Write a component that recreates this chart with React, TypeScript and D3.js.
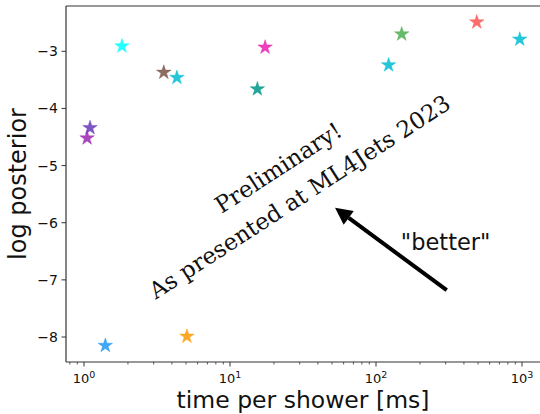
import React from "react";
import * as d3 from "d3";

const times = [1.82, 17.4, 150, 490, 965, 122, 3.52, 4.33, 15.4, 1.1, 1.05, 1.4, 5.07];
const logPosteriors = [-2.91, -2.93, -2.70, -2.49, -2.79, -3.24, -3.37, -3.46, -3.66, -4.34, -4.52, -8.15, -7.99];
const colors = ["#00ffff", "#e91eb0", "#4caf50", "#ff5252", "#00bcd4", "#00bcd4", "#795548", "#00bcd4", "#009688", "#673ab7", "#9c27b0", "#2196f3", "#ff9800"];
const yTicks = [-8, -7, -6, -5, -4, -3];
const xMajorExps = [0, 1, 2, 3];

const W = 540, H = 414;
const left = 66, right = 545, top = 6, bottom = 362;

function starPath(R: number) {
  const r = R * 0.381966;
  const pts: string[] = [];
  for (let i = 0; i < 10; i++) {
    const a = -Math.PI / 2 + (i * Math.PI) / 5;
    const rr = i % 2 === 0 ? R : r;
    pts.push(`${(rr * Math.cos(a)).toFixed(2)},${(rr * Math.sin(a)).toFixed(2)}`);
  }
  return "M" + pts.join("L") + "Z";
}

export default function App() {
  const x = d3.scaleLog().domain([0.753, 1437]).range([left, right]);
  const y = d3.scaleLinear().domain([-8.4375, -2.207]).range([bottom, top]);
  const minor: number[] = [];
  for (let e = -1; e <= 3; e++) for (let m = 2; m <= 9; m++) {
    const v = m * Math.pow(10, e);
    if (x(v) >= left && x(v) <= right) minor.push(v);
  }
  const star = starPath(7.6);
  const fs = "DejaVu Sans, sans-serif";

  const textCx = x(27.5), textCy = y(-5.4);
  const tail = [x(305), y(-7.18)];
  const tip = [x(52.4), y(-5.74)];
  const ang = Math.atan2(tip[1] - tail[1], tip[0] - tail[0]);
  const hl = 17, hw = 8.5;
  const bx = tip[0] - hl * Math.cos(ang), by = tip[1] - hl * Math.sin(ang);
  const px = -Math.sin(ang), py = Math.cos(ang);

  return (
    <svg width={W} height={H} style={{ position: "absolute", left: 0, top: 0, background: "#fff" }}>
      <g fontFamily={fs}>
        <line x1={left} x2={left} y1={top} y2={bottom} stroke="#333" strokeWidth={1.2} />
        <line x1={left} x2={right} y1={bottom} y2={bottom} stroke="#333" strokeWidth={1.2} />
        <line x1={left} x2={right} y1={top} y2={top} stroke="#333" strokeWidth={1.2} />
        {yTicks.map((t) => (
          <g key={t}>
            <line x1={left - 4.5} x2={left} y1={y(t)} y2={y(t)} stroke="#333" strokeWidth={1} />
            <text x={left - 8} y={y(t)} dy="0.36em" textAnchor="end" fontSize={14} fill="#111">
              {"\u2212" + Math.abs(t)}
            </text>
          </g>
        ))}
        {xMajorExps.map((e) => (
          <g key={e}>
            <line x1={x(Math.pow(10, e))} x2={x(Math.pow(10, e))} y1={bottom} y2={bottom + 4.5} stroke="#333" strokeWidth={1} />
            <text x={x(Math.pow(10, e))} y={bottom + 21} textAnchor="middle" fontSize={13} fill="#111">
              10<tspan dy={-5} fontSize={9.5}>{e}</tspan>
            </text>
          </g>
        ))}
        {minor.map((v) => (
          <line key={v} x1={x(v)} x2={x(v)} y1={bottom} y2={bottom + 2.5} stroke="#333" strokeWidth={0.8} />
        ))}
        <text x={(left + 540) / 2} y={408} textAnchor="middle" fontSize={23.5} fill="#111">
          time per shower [ms]
        </text>
        <text transform={`translate(26,${(top + bottom) / 2}) rotate(-90)`} textAnchor="middle" fontSize={24} fill="#111">
          log posterior
        </text>
        {times.map((t, i) => (
          <path key={i} d={star} transform={`translate(${x(t)},${y(logPosteriors[i])})`} fill={colors[i]} fillOpacity={0.85} stroke={colors[i]} strokeOpacity={0.85} strokeWidth={0.5} />
        ))}
        <g transform={`translate(${textCx},${textCy}) rotate(-33)`} fontFamily="DejaVu Serif, serif" fontSize={23} fill="#111">
          <text x={-2} y={-18} textAnchor="middle">Preliminary!</text>
          <text x={0} y={18} textAnchor="middle">As presented at ML4Jets 2023</text>
        </g>
        <line x1={tail[0]} y1={tail[1]} x2={bx} y2={by} stroke="#000" strokeWidth={4} />
        <path d={`M${tip[0]},${tip[1]}L${bx + px * hw},${by + py * hw}L${bx - px * hw},${by - py * hw}Z`} fill="#000" />
        <text x={x(148)} y={y(-6.48)} fontSize={22.5} fill="#111">"better"</text>
      </g>
    </svg>
  );
}
